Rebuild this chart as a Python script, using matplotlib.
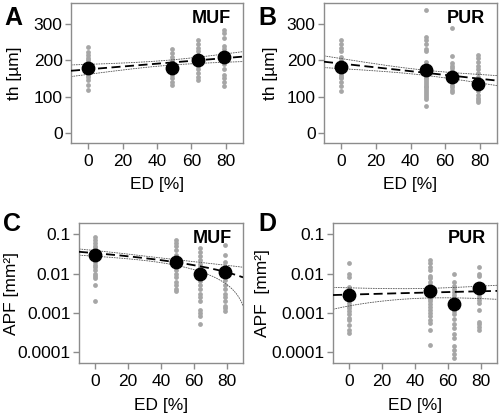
import numpy as np
import matplotlib.pyplot as plt
from matplotlib.ticker import FixedLocator, FixedFormatter, NullLocator

plt.rcParams["font.family"] = ["Liberation Sans", "DejaVu Sans"]

ED_GROUPS = [0, 49, 64, 79]

# th [um], MUF (panel A)
th_muf_raw = [
    [237, 224, 215, 205, 200, 195, 190, 185, 180, 175, 170, 165, 160, 155, 146, 132, 117],
    [230, 220, 210, 200, 195, 190, 180, 170, 160, 150, 140, 133],
    [255, 245, 235, 225, 215, 205, 195, 185, 175, 165, 155, 145],
    [284, 275, 260, 240, 230, 220, 210, 200, 190, 175, 160, 150, 140, 128],
]
th_muf_mean = [178, 178, 200, 210]

# th [um], PUR (panel B)
th_pur_raw = [
    [255, 245, 235, 225, 210, 200, 190, 180, 175, 170, 165, 160, 155, 150, 140, 130, 115],
    [338, 265, 255, 245, 232, 225, 195, 185, 175, 165, 160, 155, 150, 145, 140,
     135, 130, 125, 120, 115, 110, 105, 100, 92, 75],
    [290, 213, 192, 185, 178, 170, 162, 155, 148, 140, 132, 125, 118, 113],
    [215, 205, 195, 185, 175, 165, 155, 145, 135, 125, 115, 105, 97, 90, 85],
]
th_pur_mean = [182, 173, 153, 135]

# APF [mm2], MUF (panel C)
apf_muf_raw = [
    [0.085, 0.07, 0.06, 0.05, 0.045, 0.04, 0.035, 0.03, 0.027, 0.024, 0.02, 0.017,
     0.015, 0.012, 0.01, 0.0085, 0.0075, 0.005, 0.002],
    [0.07, 0.06, 0.05, 0.04, 0.03, 0.025, 0.02, 0.017, 0.015, 0.012, 0.01, 0.008,
     0.006, 0.005, 0.004, 0.0035],
    [0.045, 0.035, 0.028, 0.022, 0.018, 0.015, 0.012, 0.01, 0.008, 0.0065, 0.005,
     0.004, 0.003, 0.0025, 0.002, 0.0012, 0.001, 0.0008, 0.0005],
    [0.053, 0.03, 0.02, 0.015, 0.012, 0.009, 0.007, 0.005, 0.004, 0.003, 0.0025,
     0.002, 0.0015, 0.0013, 0.0011],
]
apf_muf_mean = [0.030, 0.020, 0.0097, 0.0108]

# APF [mm2], PUR (panel D)
apf_pur_raw = [
    [0.019, 0.01, 0.008, 0.0045, 0.004, 0.0035, 0.003, 0.0026, 0.0022, 0.0018, 0.0015,
     0.0013, 0.0011, 0.0009, 0.00075, 0.00065, 0.00048, 0.00036, 0.0003],
    [0.022, 0.019, 0.015, 0.012, 0.0085, 0.0075, 0.006, 0.005, 0.0042, 0.0037, 0.0032,
     0.0028, 0.0025, 0.0022, 0.002, 0.0017, 0.0014, 0.0012, 0.001, 0.0008, 0.00065,
     0.00055, 0.00036, 0.00015],
    [0.01, 0.006, 0.0048, 0.004, 0.0033, 0.0028, 0.0024, 0.002, 0.0017, 0.0014, 0.0011,
     0.0009, 0.0007, 0.0005, 0.0004, 0.00028, 0.00022, 0.00014, 0.00011, 0.00009, 0.00007],
    [0.015, 0.01, 0.0085, 0.0055, 0.0045, 0.0038, 0.003, 0.0025, 0.0021, 0.0018, 0.0012,
     0.00058, 0.0005, 0.00043, 0.00036],
]
apf_pur_mean = [0.0028, 0.0035, 0.0017, 0.0042]

# linear fits: intercept, slope, band centre, min half width, growth
fit_A = (175.0, 0.39, 45.0, 7.0, 0.0684)
fit_B = (190.8, -0.52, 45.0, 7.0, 0.07)
fit_C = (0.0332, -0.00028, 40.0, 0.003, 1.33e-8)
fit_D = (0.0029, 7.8e-6, 45.0, 0.0009, 5.79e-10)

GRAY = "#a6a6a6"
SPINE = "#8c8c8c"


def fit_lines(ax, fit):
    a, b, xm, h0, k = fit
    x = np.linspace(-10, 90, 300)
    yc = a + b * x
    hw = np.sqrt(h0 ** 2 + k * (x - xm) ** 2)
    lo = yc - hw
    lo = np.where(lo > 0, lo, np.nan)
    ax.plot(x, yc + hw, color="#555555", lw=0.6, ls=(0, (2, 1)), zorder=2)
    ax.plot(x, lo, color="#555555", lw=0.6, ls=(0, (2, 1)), zorder=2)
    ax.plot(x, yc, color="black", lw=1.3, ls=(0, (5, 2.5)), zorder=3)


def panel(ax, raw, means, fit, tag, ylabel, ylab_x, ylab_y, log=False):
    for xg, vals in zip(ED_GROUPS, raw):
        ax.scatter([xg] * len(vals), vals, s=12, color=GRAY, lw=0, zorder=1)
    fit_lines(ax, fit)
    ax.scatter(ED_GROUPS, means, s=80, color="black", zorder=4)
    ax.set_xlim(-10, 90)
    ax.set_xticks([0, 20, 40, 60, 80])
    if log:
        ax.set_yscale("log")
        ax.set_ylim(5.1e-5, 0.195)
        ticks = [0.0001, 0.001, 0.01, 0.1]
        ax.yaxis.set_major_locator(FixedLocator(ticks))
        ax.yaxis.set_major_formatter(FixedFormatter(["0.0001", "0.001", "0.01", "0.1"]))
        ax.yaxis.set_minor_locator(NullLocator())
    else:
        ax.set_ylim(-28, 358)
        ax.set_yticks([0, 100, 200, 300])
    for s in ax.spines.values():
        s.set_color(SPINE)
        s.set_linewidth(1.0)
    ax.tick_params(colors=SPINE, labelcolor="black", labelsize=12.5, length=4.5, width=1)
    ax.tick_params(axis="y", pad=1.5)
    ax.set_xlabel("ED [%]", fontsize=12.5, labelpad=6)
    ax.set_ylabel(ylabel, fontsize=12.5, va="center")
    ax.yaxis.set_label_coords(ylab_x, ylab_y, transform=ax.figure.transFigure)
    ax.text(0.93, 0.95, tag, transform=ax.transAxes, ha="right", va="top",
            fontsize=13, fontweight="bold")
    return ax


fig = plt.figure(figsize=(5.0, 4.17), dpi=100)
axA = fig.add_axes([0.142, 0.657, 0.344, 0.336])
axB = fig.add_axes([0.648, 0.657, 0.346, 0.336])
axC = fig.add_axes([0.158, 0.129, 0.328, 0.336])
axD = fig.add_axes([0.666, 0.129, 0.328, 0.336])

panel(axA, th_muf_raw, th_muf_mean, fit_A, "MUF", "th [µm]", 0.030, 0.825)
panel(axB, th_pur_raw, th_pur_mean, fit_B, "PUR", "th [µm]", 0.542, 0.825)
panel(axC, apf_muf_raw, apf_muf_mean, fit_C, "MUF", "APF [mm²]", 0.024, 0.297, log=True)
panel(axD, apf_pur_raw, apf_pur_mean, fit_D, "PUR", "APF  [mm²]", 0.524, 0.297, log=True)

for letter, x, y in [("A", 0.008, 0.958), ("B", 0.516, 0.958),
                     ("C", 0.006, 0.462), ("D", 0.516, 0.462)]:
    fig.text(x, y, letter, fontsize=18, fontweight="bold", ha="left", va="center")

fig.savefig("out.png", dpi=100)
